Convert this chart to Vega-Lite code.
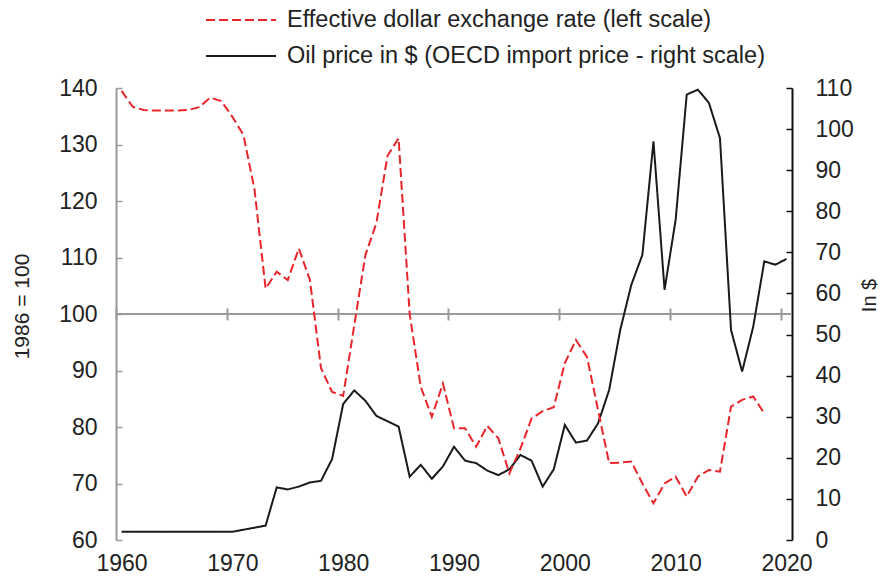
{
  "$schema": "https://vega.github.io/schema/vega-lite/v6.json",
  "width": 676,
  "height": 452,
  "autosize": "none",
  "padding": {"left": 116, "top": 88, "right": 91, "bottom": 36},
  "background": "white",
  "config": {
    "view": {"stroke": null},
    "font": "Liberation Sans",
    "axis": {"labelFont": "Liberation Sans", "titleFont": "Liberation Sans", "grid": false}
  },
  "data": {
    "values": [
      {"year": 1960, "usd": 139.5, "oil": 2.0},
      {"year": 1961, "usd": 136.7, "oil": 2.0},
      {"year": 1962, "usd": 136.1, "oil": 2.0},
      {"year": 1963, "usd": 136.0, "oil": 2.0},
      {"year": 1964, "usd": 136.0, "oil": 2.0},
      {"year": 1965, "usd": 136.0, "oil": 2.0},
      {"year": 1966, "usd": 136.1, "oil": 2.0},
      {"year": 1967, "usd": 136.6, "oil": 2.0},
      {"year": 1968, "usd": 138.3, "oil": 2.0},
      {"year": 1969, "usd": 137.7, "oil": 2.0},
      {"year": 1970, "usd": 134.9, "oil": 2.0},
      {"year": 1971, "usd": 131.7, "oil": 2.5},
      {"year": 1972, "usd": 122.0, "oil": 3.0},
      {"year": 1973, "usd": 104.5, "oil": 3.5},
      {"year": 1974, "usd": 107.5, "oil": 12.8},
      {"year": 1975, "usd": 106.0, "oil": 12.3},
      {"year": 1976, "usd": 111.6, "oil": 13.0},
      {"year": 1977, "usd": 106.0, "oil": 14.0},
      {"year": 1978, "usd": 90.4, "oil": 14.4},
      {"year": 1979, "usd": 86.2, "oil": 19.7},
      {"year": 1980, "usd": 85.5, "oil": 33.1},
      {"year": 1981, "usd": 98.0, "oil": 36.4},
      {"year": 1982, "usd": 110.4, "oil": 33.9},
      {"year": 1983, "usd": 116.1, "oil": 30.2},
      {"year": 1984, "usd": 128.0, "oil": 28.9},
      {"year": 1985, "usd": 131.1, "oil": 27.6},
      {"year": 1986, "usd": 100.0, "oil": 15.4},
      {"year": 1987, "usd": 87.1, "oil": 18.3},
      {"year": 1988, "usd": 81.8, "oil": 14.9},
      {"year": 1989, "usd": 87.7, "oil": 17.9},
      {"year": 1990, "usd": 79.8, "oil": 22.7},
      {"year": 1991, "usd": 79.8, "oil": 19.3},
      {"year": 1992, "usd": 76.5, "oil": 18.7},
      {"year": 1993, "usd": 80.2, "oil": 16.9},
      {"year": 1994, "usd": 78.0, "oil": 15.8},
      {"year": 1995, "usd": 71.8, "oil": 17.2},
      {"year": 1996, "usd": 76.2, "oil": 20.7},
      {"year": 1997, "usd": 81.5, "oil": 19.3},
      {"year": 1998, "usd": 82.8, "oil": 13.0},
      {"year": 1999, "usd": 83.5, "oil": 17.2},
      {"year": 2000, "usd": 91.3, "oil": 28.0},
      {"year": 2001, "usd": 95.4, "oil": 23.7},
      {"year": 2002, "usd": 92.4, "oil": 24.2},
      {"year": 2003, "usd": 83.0, "oil": 28.4},
      {"year": 2004, "usd": 73.6, "oil": 36.5},
      {"year": 2005, "usd": 73.7, "oil": 51.1},
      {"year": 2006, "usd": 73.9, "oil": 62.1},
      {"year": 2007, "usd": 70.0, "oil": 69.4},
      {"year": 2008, "usd": 66.5, "oil": 97.0},
      {"year": 2009, "usd": 70.0, "oil": 60.9},
      {"year": 2010, "usd": 71.2, "oil": 77.9},
      {"year": 2011, "usd": 67.7, "oil": 108.4},
      {"year": 2012, "usd": 71.2, "oil": 109.6},
      {"year": 2013, "usd": 72.4, "oil": 106.4},
      {"year": 2014, "usd": 72.1, "oil": 97.8},
      {"year": 2015, "usd": 83.6, "oil": 51.1},
      {"year": 2016, "usd": 84.8, "oil": 41.0},
      {"year": 2017, "usd": 85.4, "oil": 51.9},
      {"year": 2018, "usd": 82.4, "oil": 67.8},
      {"year": 2019, "oil": 67.0},
      {"year": 2020, "oil": 68.4}
    ]
  },
  "resolve": {"scale": {"y": "independent"}, "axis": {"x": "independent", "y": "independent"}},
  "layer": [
    {
      "mark": {"type": "rule", "color": "#9a9a9a", "strokeWidth": 2},
      "encoding": {
        "y": {"datum": 100, "type": "quantitative", "scale": {"domain": [60, 140], "nice": false}, "axis": null}
      }
    },
    {
      "mark": {"type": "line", "strokeWidth": 2},
      "encoding": {
        "x": {
          "field": "year", "type": "quantitative",
          "scale": {"domain": [1959.5, 2020.5], "nice": false, "zero": false},
          "axis": {
            "orient": "bottom", "title": null, "values": [1960, 1970, 1980, 1990, 2000, 2010, 2020],
            "format": "d", "domain": false, "ticks": false, "labelPadding": 12,
            "labelFontSize": 23, "labelColor": "#222222", "labelFlush": false
          }
        },
        "y": {
          "field": "oil", "type": "quantitative",
          "scale": {"domain": [0, 110], "nice": false, "zero": false},
          "axis": {
            "orient": "right", "title": "In $", "values": [0, 10, 20, 30, 40, 50, 60, 70, 80, 90, 100, 110],
            "domainColor": "#111111", "domainWidth": 2, "tickColor": "#111111", "tickWidth": 1.5, "tickSize": -6,
            "labelPadding": 29, "labelFontSize": 23, "labelColor": "#222222",
            "titleFontSize": 20, "titleFontWeight": "normal", "titleColor": "#222222",
            "titleAngle": 270, "titleX": 77, "titleY": 207, "titleAlign": "center", "titleBaseline": "middle"
          }
        },
        "color": {
          "datum": "Oil price in $ (OECD import price - right scale)",
          "type": "nominal",
          "scale": {
            "domain": ["Effective dollar exchange rate (left scale)", "Oil price in $ (OECD import price - right scale)"],
            "range": ["#e8252b", "#1a1a1a"]
          },
          "legend": {
            "orient": "none", "legendX": 89, "legendY": -81, "direction": "vertical", "title": null, "padding": 0,
            "symbolType": "stroke", "symbolSize": 4900, "symbolStrokeWidth": 2, "clipHeight": 26,
            "labelFontSize": 23.5, "labelFont": "Liberation Sans", "labelColor": "#222222",
            "labelOffset": 10, "rowPadding": 10, "labelLimit": 700
          }
        },
        "strokeDash": {
          "datum": "Oil price in $ (OECD import price - right scale)",
          "type": "nominal",
          "scale": {
            "domain": ["Effective dollar exchange rate (left scale)", "Oil price in $ (OECD import price - right scale)"],
            "range": [[9, 4], [1, 0]]
          },
          "legend": {
            "orient": "none", "legendX": 89, "legendY": -81, "direction": "vertical", "title": null, "padding": 0,
            "symbolType": "stroke", "symbolSize": 4900, "symbolStrokeWidth": 2, "clipHeight": 26,
            "labelFontSize": 23.5, "labelFont": "Liberation Sans", "labelColor": "#222222",
            "labelOffset": 10, "rowPadding": 10, "labelLimit": 700
          }
        }
      }
    },
    {
      "mark": {"type": "line", "strokeWidth": 2},
      "encoding": {
        "x": {
          "field": "year", "type": "quantitative",
          "axis": {
            "orient": "bottom", "title": null, "offset": -232,
            "values": [1959.5, 1969.5, 1979.5, 1989.5, 1999.5, 2009.5, 2019.5],
            "labels": false, "domain": false, "ticks": true, "tickSize": 12, "tickColor": "#9a9a9a", "tickWidth": 2
          }
        },
        "y": {
          "field": "usd", "type": "quantitative",
          "scale": {"domain": [60, 140], "nice": false, "zero": false},
          "axis": {
            "orient": "left", "title": "1986 = 100", "values": [60, 70, 80, 90, 100, 110, 120, 130, 140],
            "domainColor": "#9a9a9a", "domainWidth": 2, "tickColor": "#9a9a9a", "tickWidth": 1.5, "tickSize": -6,
            "labelPadding": 25, "labelFontSize": 23, "labelColor": "#222222",
            "titleFontSize": 21, "titleFontWeight": "normal", "titleColor": "#222222",
            "titleAngle": 270, "titleX": -94, "titleY": 218, "titleAlign": "center", "titleBaseline": "middle"
          }
        },
        "color": {"datum": "Effective dollar exchange rate (left scale)", "type": "nominal"},
        "strokeDash": {"datum": "Effective dollar exchange rate (left scale)", "type": "nominal"}
      }
    }
  ]
}
